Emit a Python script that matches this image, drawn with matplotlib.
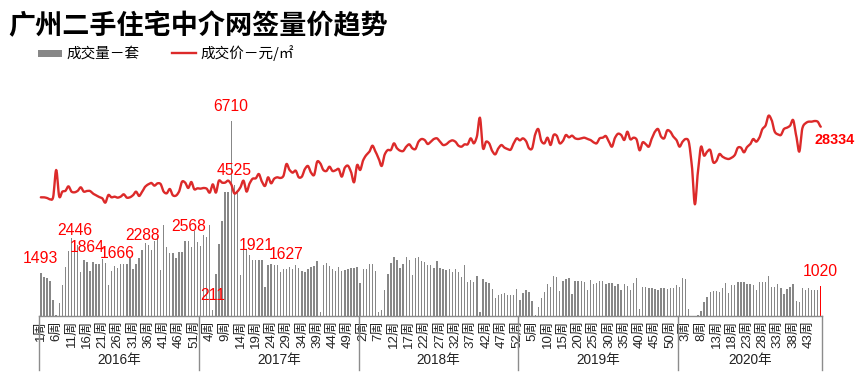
import numpy as np
import matplotlib
matplotlib.use('Agg')
import matplotlib.pyplot as plt
import matplotlib.transforms as mtransforms
from matplotlib.patches import Rectangle
from matplotlib.lines import Line2D

plt.rcParams['font.family'] = ['Liberation Sans', 'Noto Sans CJK SC', 'DejaVu Sans']

title = '广州二手住宅中介网签量价趋势'
legend_volume = '成交量－套'
legend_price = '成交价－元/㎡'
years = ['2016年', '2017年', '2018年', '2019年', '2020年']
weeks_per_year = [52, 52, 52, 52, 47]

volume_2016 = [1493, 1353, 1296, 1216, 551, 30, 436, 1067, 1675, 2237,
               2672, 2446, 2443, 1526, 1927, 1864, 1548, 1847, 1778, 1789,
               1961, 1812, 1067, 1548, 1720, 1666, 1789, 1789, 1789, 1996,
               1617, 1778, 1996, 2288, 2523, 2443, 2271, 2592, 2750, 1583,
               3131, 2386, 2179, 2179, 1984, 2214, 2214, 2581, 2568, 2386,
               2925, 2535]
volume_2017 = [2409, 2787, 2707, 3131, 211, 1434, 2466, 3269, 4255, 4255,
               6710, 4525, 4255, 1411, 2500, 2300, 2100, 1927, 1921, 1927,
               1927, 1009, 1755, 1778, 1755, 1755, 1503, 1606, 1627, 1675,
               1617, 1755, 1640, 1548, 1525, 1617, 1686, 1720, 1893, 149,
               1755, 1824, 1709, 1617, 1548, 1675, 1548, 1583, 1617, 1640,
               1652, 1686]
volume_2018 = [1124, 1617, 1617, 1789, 1789, 1548, 126, 206, 895, 1445,
               1824, 2030, 1915, 1663, 1778, 2030, 1915, 1411, 1984, 2030,
               1893, 1847, 1755, 1755, 1663, 1893, 1663, 1617, 1583, 1617,
               1525, 1617, 1525, 1342, 1755, 1181, 1239, 1170, 1376, 149,
               1273, 1181, 1124, 929, 631, 711, 757, 803, 723, 723,
               723, 929]
volume_2019 = [551, 780, 895, 826, 516, 20, 321, 631, 814, 1101,
               998, 1376, 1342, 872, 1204, 1273, 1308, 757, 1204, 1204,
               1204, 1170, 895, 1239, 1101, 1136, 1204, 1204, 1101, 1136,
               1136, 1032, 1101, 895, 1101, 1032, 895, 1136, 1308, 241,
               998, 998, 964, 964, 929, 895, 964, 964, 929, 964,
               964, 1067]
volume_2020 = [998, 1308, 1285, 241, 0, 0, 34, 172, 493, 665,
               837, 872, 872, 814, 975, 1124, 780, 1055, 1055, 1170,
               1170, 1170, 1101, 1101, 1055, 895, 1170, 1170, 1170, 1376,
               998, 998, 1101, 964, 757, 929, 998, 1101, 516, 493,
               952, 895, 964, 895, 895, 900, 1020]

price_2016 = [17764, 17764, 17665, 17465, 17764, 21856, 17864, 18613, 18732, 19411,
              18613, 18513, 18732, 19261, 18613, 18713, 18713, 18313, 18064, 17814,
              17615, 16966, 18114, 17764, 17864, 17715, 17864, 18214, 17715, 17764,
              18064, 18613, 17964, 18613, 19361, 19710, 19910, 19510, 19860, 19760,
              18613, 18363, 19011, 18064, 18014, 18613, 20110, 19960, 19161, 20060,
              18962, 19111]
price_2017 = [19061, 19161, 19061, 18463, 19710, 18463, 20260, 19960, 19960, 20260,
              19710, 18363, 18613, 19261, 20260, 18613, 19860, 20558, 20608, 21257,
              20110, 19460, 20758, 19860, 20558, 20758, 20658, 20958, 22753, 21856,
              21457, 21756, 20758, 20858, 22006, 22455, 21457, 21107, 23103, 22850,
              21852, 21702, 22351, 21700, 21802, 22002, 20854, 22201, 22500, 21603,
              20004, 22600]
price_2018 = [21852, 23349, 24097, 24596, 25494, 24596, 23598, 22451, 24197, 24845,
              24845, 25843, 25095, 24745, 24695, 25344, 25694, 25095, 24995, 26093,
              26492, 26342, 25743, 26092, 26492, 26592, 26092, 25593, 25693, 26092,
              26292, 26092, 25494, 25344, 25693, 25693, 26592, 25843, 26841, 29685,
              25094, 26092, 25843, 24695, 24196, 25094, 25593, 25194, 24994, 24895,
              25843, 26592]
price_2019 = [26292, 26592, 26192, 25094, 25094, 27190, 27988, 26192, 25843, 26692,
              25593, 27090, 26990, 25843, 26192, 27090, 26741, 26990, 26592, 26492,
              26592, 26691, 26492, 26342, 25993, 25843, 26592, 26691, 26940, 26093,
              25344, 26691, 27290, 27090, 26342, 27589, 26442, 26691, 26442, 24795,
              25993, 25743, 25344, 26592, 27589, 27988, 26841, 26592, 27789, 27589,
              26841, 26342]
price_2020 = [25344, 26093, 26492, 26093, 22600, 16713, 21603, 25344, 23997, 24596,
              24845, 23000, 23199, 24247, 23847, 23598, 23498, 23698, 24097, 25194,
              25194, 24496, 25294, 25693, 26492, 26093, 26691, 27988, 28487, 29985,
              29335, 27589, 27190, 27090, 27988, 28188, 28487, 29335, 26991, 24596,
              28088, 28836, 29086, 29086, 29185, 29086, 28334]

# indices of weekly volumes carrying a value label
label_idx = [0, 11, 15, 25, 33, 48, 56, 62, 63, 70, 80, 254]

volume = volume_2016 + volume_2017 + volume_2018 + volume_2019 + volume_2020
price = price_2016 + price_2017 + price_2018 + price_2019 + price_2020
n = len(volume)
x = np.arange(n)

# week-of-year labels
week_no = []
for nw in weeks_per_year:
    week_no += list(range(1, nw + 1))
tick_pos = list(range(0, n, 5))
tick_lab = [f'{week_no[i]}周' for i in tick_pos]

W, H = 859, 386
fig = plt.figure(figsize=(W / 100, H / 100), dpi=100)
ax = fig.add_axes([39.3 / W, (H - 316) / H, 783 / W, 216 / H])
ax2 = ax.twinx()

bar_colors = ['#878787'] * n
bar_colors[-1] = '#ff0000'
ax.bar(x, volume, width=0.45, color=bar_colors, linewidth=0)
ax.set_xlim(-0.5, n - 0.5)
ax.set_ylim(0, 7433)
ax2.set_ylim(0, 32330)


def smooth(xs, ys, k=8, tension=0.8):
    xs = np.asarray(xs, float)
    ys = np.asarray(ys, float)
    outx, outy = [], []
    m = len(xs)
    for i in range(m - 1):
        p0 = ys[max(i - 1, 0)]
        p1 = ys[i]
        p2 = ys[i + 1]
        p3 = ys[min(i + 2, m - 1)]
        m1 = (p2 - p0) / 2 * tension
        m2 = (p3 - p1) / 2 * tension
        t = np.linspace(0, 1, k, endpoint=False)
        h00 = 2 * t**3 - 3 * t**2 + 1
        h10 = t**3 - 2 * t**2 + t
        h01 = -2 * t**3 + 3 * t**2
        h11 = t**3 - t**2
        outy.append(h00 * p1 + h10 * m1 + h01 * p2 + h11 * m2)
        outx.append(xs[i] + t * (xs[i + 1] - xs[i]))
    outx.append([xs[-1]])
    outy.append([ys[-1]])
    return np.concatenate(outx), np.concatenate(outy)


sx, sy = smooth(x, price)
ax2.plot(sx, sy, color='#dc2a2a', lw=1.7, solid_capstyle='round', solid_joinstyle='round')

for a in (ax, ax2):
    for s in ('top', 'left', 'right'):
        a.spines[s].set_visible(False)
    a.set_yticks([])
ax2.spines['bottom'].set_visible(False)
ax.spines['bottom'].set_color('#8c8c8c')
ax.spines['bottom'].set_linewidth(1.0)

ax.set_xticks(tick_pos)
ax.set_xticklabels(tick_lab, rotation=90, fontsize=9.5, color='#222222')
ax.tick_params(axis='x', length=0, pad=3)

# value labels
for i in label_idx:
    ax2.annotate(str(volume[i]), xy=(x[i], volume[i]), xycoords=ax.transData,
                 xytext=(0, 7.2), textcoords='offset points', ha='center',
                 va='baseline', color='#ff0000', fontsize=11.3)
ax2.annotate(str(price[-1]), xy=(x[-1], price[-1]), xycoords='data',
             xytext=(-4.3, -9.5), textcoords='offset points', ha='left', va='center',
             color='#ff0000', fontsize=10.4, fontweight='bold')

# year separators and labels
trans = mtransforms.blended_transform_factory(ax.transData, ax.transAxes)
bounds = np.concatenate([[0], np.cumsum(weeks_per_year)])
for b in bounds:
    ax.plot([b - 0.5, b - 0.5], [0, -0.25], transform=trans, color='#8c8c8c',
            lw=1.0, clip_on=False)
for j, yl in enumerate(years):
    c = (bounds[j] + bounds[j + 1]) / 2 - 0.5
    ax.text(c, -0.206, yl, transform=trans, ha='center', va='center',
            fontsize=9.8, color='#222222')

# title and legend
fig.text(8 / W, 1 - 26.5 / H, title, fontsize=19.5, fontweight='bold',
         va='center', ha='left', color='#000000', family=['Noto Sans CJK SC'])
fig.patches.append(Rectangle((38 / W, 1 - 57 / H), 24 / W, 7 / H,
                             transform=fig.transFigure, facecolor='#878787',
                             edgecolor='none'))
fig.text(66 / W, 1 - 53.5 / H, legend_volume, fontsize=10.5, va='center',
         ha='left', family=['Noto Sans CJK SC'])
fig.lines.append(Line2D([172 / W, 196 / W], [1 - 53.3 / H, 1 - 53.3 / H],
                        transform=fig.transFigure, color='#dc2a2a', lw=1.7))
fig.text(200 / W, 1 - 53.5 / H, legend_price, fontsize=10.5, va='center',
         ha='left', family=['Noto Sans CJK SC'])

fig.savefig('out.png', dpi=100)
